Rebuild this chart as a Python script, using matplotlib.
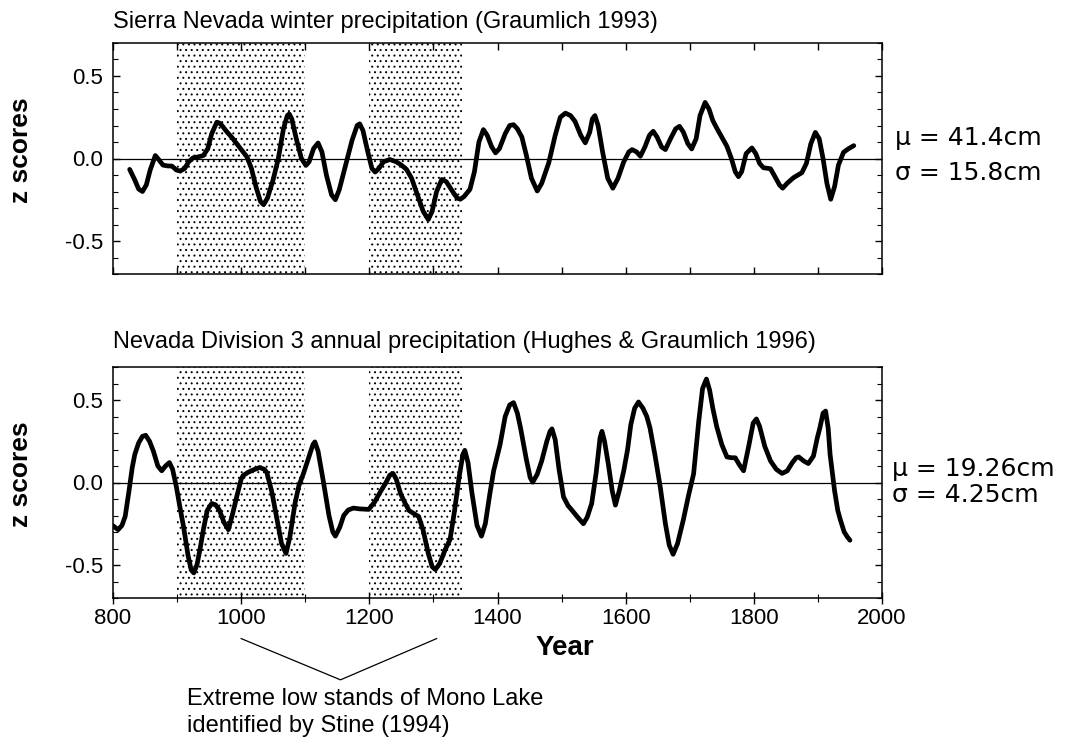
import numpy as np
import matplotlib
matplotlib.use("Agg")
import matplotlib.pyplot as plt
from matplotlib.ticker import MultipleLocator

# ---------------- data ----------------
sierra_years = [826, 834, 840, 846, 852, 858, 866, 872, 878, 885, 892, 899, 905, 912,
                918, 925, 933, 941, 948, 954, 962, 966, 970, 978, 985, 993, 1001,
                1009, 1016, 1023, 1030, 1035, 1041, 1050, 1058, 1066, 1072, 1075,
                1079, 1086, 1094, 1101, 1106, 1113, 1120, 1126, 1133, 1141, 1147,
                1153, 1163, 1173, 1181, 1185, 1190, 1197, 1204, 1209, 1215, 1222,
                1232, 1242, 1250, 1258, 1266, 1275, 1284, 1292, 1298, 1305, 1313,
                1320, 1330, 1337, 1342, 1348, 1357, 1364, 1371, 1378, 1384, 1391,
                1397, 1403, 1412, 1419, 1425, 1431, 1438, 1445, 1453, 1462, 1469,
                1480, 1490, 1498, 1506, 1514, 1521, 1530, 1537, 1544, 1548, 1552,
                1557, 1564, 1572, 1580, 1588, 1597, 1605, 1610, 1617, 1623, 1630,
                1637, 1643, 1649, 1656, 1662, 1670, 1678, 1684, 1690, 1697, 1703,
                1710, 1716, 1724, 1730, 1736, 1742, 1750, 1758, 1765, 1771, 1776,
                1781, 1788, 1797, 1803, 1809, 1815, 1826, 1833, 1840, 1845, 1852,
                1862, 1875, 1882, 1889, 1896, 1902, 1908, 1914, 1920, 1926, 1932,
                1940, 1948, 1956]
sierra_z = [-0.066, -0.13, -0.185, -0.20, -0.16, -0.07, 0.018, -0.01, -0.04, -0.045,
            -0.046, -0.07, -0.076, -0.06, -0.02, 0.004, 0.01, 0.018, 0.06, 0.15,
            0.22, 0.215, 0.20, 0.16, 0.13, 0.09, 0.05, 0.01, -0.06, -0.17, -0.26,
            -0.28, -0.24, -0.127, 0.0, 0.18, 0.26, 0.27, 0.24, 0.12, 0.0, -0.042,
            -0.02, 0.06, 0.094, 0.04, -0.1, -0.22, -0.25, -0.19, -0.04, 0.11, 0.2,
            0.21, 0.17, 0.05, -0.06, -0.082, -0.06, -0.02, -0.006, -0.02, -0.04,
            -0.066, -0.12, -0.22, -0.32, -0.37, -0.32, -0.2, -0.127, -0.14, -0.2,
            -0.24, -0.247, -0.23, -0.187, -0.08, 0.1, 0.175, 0.14, 0.07, 0.034,
            0.06, 0.15, 0.2, 0.205, 0.18, 0.13, 0.02, -0.12, -0.197, -0.15, -0.026,
            0.14, 0.25, 0.275, 0.26, 0.225, 0.14, 0.095, 0.16, 0.24, 0.26, 0.2,
            0.04, -0.12, -0.18, -0.12, -0.02, 0.04, 0.054, 0.04, 0.014, 0.07, 0.14,
            0.165, 0.13, 0.07, 0.054, 0.12, 0.18, 0.195, 0.16, 0.09, 0.058, 0.12,
            0.26, 0.34, 0.3, 0.23, 0.185, 0.13, 0.074, 0.0, -0.08, -0.11, -0.08,
            0.03, 0.064, 0.03, -0.03, -0.056, -0.062, -0.11, -0.16, -0.18, -0.15,
            -0.116, -0.086, -0.03, 0.09, 0.158, 0.12, 0.0, -0.15, -0.247, -0.17,
            -0.04, 0.038, 0.06, 0.078]

nevada_years = [800, 808, 814, 819, 825, 830, 834, 840, 846, 851, 857, 863, 870, 876,
                882, 888, 893, 899, 904, 910, 917, 922, 926, 931, 936, 941, 947,
                954, 960, 966, 973, 980, 986, 993, 1000, 1003, 1010, 1018, 1029,
                1036, 1040, 1048, 1056, 1063, 1070, 1076, 1084, 1090, 1097, 1106,
                1112, 1115, 1120, 1128, 1137, 1143, 1147, 1154, 1160, 1167, 1175,
                1185, 1199, 1208, 1217, 1226, 1232, 1237, 1242, 1249, 1256, 1262,
                1270, 1277, 1284, 1292, 1298, 1303, 1310, 1318, 1326, 1333, 1340,
                1346, 1349, 1354, 1360, 1368, 1375, 1381, 1388, 1394, 1404, 1412,
                1419, 1425, 1431, 1436, 1445, 1451, 1455, 1462, 1469, 1477, 1482,
                1485, 1490, 1496, 1503, 1510, 1516, 1525, 1534, 1540, 1547, 1554,
                1560, 1563, 1567, 1573, 1579, 1584, 1590, 1597, 1603, 1608, 1614,
                1620, 1627, 1633, 1638, 1646, 1654, 1662, 1668, 1674, 1681, 1690,
                1698, 1706, 1714, 1720, 1726, 1731, 1736, 1742, 1750, 1758, 1765,
                1771, 1777, 1784, 1792, 1799, 1804, 1809, 1817, 1826, 1835, 1844,
                1852, 1860, 1866, 1870, 1878, 1885, 1893, 1899, 1903, 1908, 1912,
                1916, 1919, 1926, 1931, 1935, 1941, 1946, 1950]
nevada_z = [-0.262, -0.286, -0.26, -0.206, -0.05, 0.09, 0.17, 0.24, 0.28, 0.286,
            0.25, 0.19, 0.1, 0.071, 0.1, 0.121, 0.08, -0.028, -0.14, -0.266, -0.44,
            -0.53, -0.548, -0.5, -0.4, -0.286, -0.17, -0.127, -0.135, -0.167,
            -0.24, -0.286, -0.2, -0.087, 0.02, 0.042, 0.06, 0.075, 0.091, 0.08,
            0.061, -0.06, -0.226, -0.37, -0.43, -0.33, -0.127, -0.02, 0.052, 0.16,
            0.23, 0.246, 0.19, 0.012, -0.2, -0.3, -0.325, -0.27, -0.2, -0.167,
            -0.155, -0.16, -0.163, -0.12, -0.058, 0.0, 0.045, 0.055, 0.02, -0.07,
            -0.127, -0.17, -0.19, -0.206, -0.29, -0.43, -0.51, -0.528, -0.49,
            -0.41, -0.345, -0.17, 0.03, 0.17, 0.195, 0.12, -0.06, -0.26, -0.325,
            -0.25, -0.07, 0.071, 0.23, 0.4, 0.47, 0.484, 0.42, 0.33, 0.14, 0.03,
            0.002, 0.05, 0.131, 0.25, 0.31, 0.325, 0.26, 0.08, -0.087, -0.14,
            -0.167, -0.21, -0.25, -0.21, -0.127, 0.06, 0.27, 0.31, 0.25, 0.11,
            -0.05, -0.137, -0.05, 0.071, 0.2, 0.35, 0.45, 0.488, 0.45, 0.4, 0.33,
            0.16, -0.028, -0.25, -0.38, -0.435, -0.37, -0.226, -0.08, 0.052, 0.37,
            0.57, 0.627, 0.56, 0.45, 0.34, 0.23, 0.155, 0.15, 0.15, 0.11, 0.071,
            0.22, 0.36, 0.385, 0.34, 0.22, 0.131, 0.08, 0.055, 0.07, 0.12, 0.15,
            0.155, 0.13, 0.115, 0.16, 0.27, 0.33, 0.42, 0.433, 0.33, 0.17, -0.05,
            -0.17, -0.226, -0.3, -0.33, -0.35]

low_stands = [(900, 1100), (1200, 1345)]
x_ticks = [800, 1000, 1200, 1400, 1600, 1800, 2000]
y_ticks = [-0.5, 0.0, 0.5]

top_title = "Sierra Nevada winter precipitation (Graumlich 1993)"
bot_title = "Nevada Division 3 annual precipitation (Hughes & Graumlich 1996)"
top_stats = ["\u03bc = 41.4cm", "\u03c3 = 15.8cm"]
bot_stats = ["\u03bc = 19.26cm", "\u03c3 = 4.25cm"]
note = "Extreme low stands of Mono Lake\nidentified by Stine (1994)"
bracket_x = [1000, 1155, 1305]
bracket_y = [-0.946, -1.196, -0.946]

# ---------------- figure ----------------
plt.rcParams['font.family'] = ['Liberation Sans', 'DejaVu Sans']
plt.rcParams['hatch.linewidth'] = 0.7
W, H = 1068, 746
fig = plt.figure(figsize=(W / 100, H / 100), dpi=100)

def fx(px):
    return px / W

def fy(py):
    return 1 - py / H

left, width = fx(113), (882 - 113) / W
ax1 = fig.add_axes([left, fy(274), width, 231 / H])
ax2 = fig.add_axes([left, fy(598), width, 231 / H])

for ax, yrs, zs in [(ax1, sierra_years, sierra_z), (ax2, nevada_years, nevada_z)]:
    ax.set_xlim(800, 2000)
    ax.set_ylim(-0.7, 0.7)
    for a, b in low_stands:
        ax.axvspan(a, b, facecolor='none', edgecolor='black', hatch='...',
                   linewidth=0, zorder=0)
    ax.axhline(0, color='black', lw=0.9, zorder=1)
    ax.plot(yrs, zs, color='black', lw=3.4, solid_joinstyle='round',
            solid_capstyle='round', zorder=3)
    for s in ax.spines.values():
        s.set_linewidth(1.1)
    ax.set_yticks(y_ticks)
    ax.set_yticklabels([f"{v:.1f}" for v in y_ticks])
    ax.yaxis.set_minor_locator(MultipleLocator(0.1))
    ax.tick_params(axis='y', which='both', direction='in', left=True, right=True,
                   labelsize=16, pad=7)
    ax.tick_params(axis='y', which='major', length=5, width=1)
    ax.tick_params(axis='y', which='minor', length=3.5, width=0.8)

# top panel x ticks: every 100, inward, top & bottom, no labels
ax1.xaxis.set_major_locator(MultipleLocator(100))
ax1.tick_params(axis='x', which='both', direction='in', top=True, bottom=True,
                labelbottom=False, length=5, width=1)

# bottom panel x ticks
ax2.set_xticks(x_ticks)
ax2.set_xticklabels([str(v) for v in x_ticks])
ax2.xaxis.set_minor_locator(MultipleLocator(100))
ax2.tick_params(axis='x', which='major', direction='inout', length=8, width=1,
                labelsize=16, pad=3, top=False)
ax2.tick_params(axis='x', which='minor', direction='inout', length=6, width=0.8,
                top=False)

# titles
fig.text(fx(113), fy(28), top_title, fontsize=17, va='baseline', ha='left')
fig.text(fx(113), fy(348), bot_title, fontsize=17, va='baseline', ha='left')

# axis labels
fig.text(fx(21), fy(150), "z scores", rotation=90, fontsize=19, fontweight='bold',
         ha='center', va='center')
fig.text(fx(21), fy(474), "z scores", rotation=90, fontsize=19, fontweight='bold',
         ha='center', va='center')
fig.text(fx(565), fy(648), "Year", fontsize=20, fontweight='bold',
         ha='center', va='center')

# stats
for (px, py), s in zip([(895, 138), (895, 173), (892, 469), (892, 495)],
                       top_stats + bot_stats):
    fig.text(fx(px), fy(py), s, fontsize=18, family='DejaVu Sans',
             ha='left', va='center')

# bracket annotation in bottom-axes data coordinates
ax2.plot(bracket_x, bracket_y, color='black', lw=0.9, clip_on=False)
fig.text(fx(187), fy(688), note, fontsize=17, ha='left', va='top',
         linespacing=1.32)

fig.savefig("out.png", dpi=100)
